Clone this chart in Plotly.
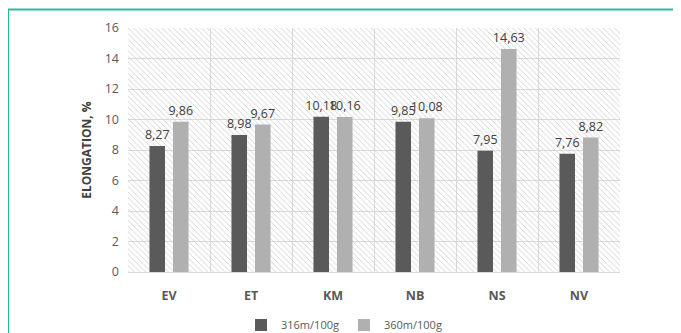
import plotly.graph_objects as go

categories = ["EV", "ET", "KM", "NB", "NS", "NV"]
series_316 = [8.27, 8.98, 10.18, 9.85, 7.95, 7.76]
series_360 = [9.86, 9.67, 10.16, 10.08, 14.63, 8.82]
series_names = ["316m/100g", "360m/100g"]
y_ticks = [0, 2, 4, 6, 8, 10, 12, 14, 16]
y_max = 16

# page has an 8px body margin; figure sized to fill the rest of the window
OFF = 8
W, H = 681 - OFF, 333 - OFF
ML, MR, MT, MB = 128 - OFF, 61, 28 - OFF, 61
pw = W - ML - MR
ph = H - MT - MB

def px_x(x):
    return (x - OFF - ML) / pw

def px_y(y):
    return (H - MB - (y - OFF)) / ph

fig = go.Figure()

# hatched plot-area background (decoration)
fig.add_trace(go.Bar(
    x=[0.5], y=[y_max], width=[1], xaxis="x", yaxis="y",
    marker=dict(color="#cfcfcf", line=dict(width=0),
                pattern=dict(shape="\\", size=4, solidity=0.22,
                             fillmode="replace")),
    showlegend=False, hoverinfo="skip",
))

font_txt = dict(family="Open Sans", size=12.5, color="#404040")
for name, vals, col in [(series_names[0], series_316, "#5a5a5a"),
                        (series_names[1], series_360, "#b0b0b0")]:
    fig.add_trace(go.Bar(
        x=categories, y=vals, name=name, xaxis="x2", yaxis="y",
        marker=dict(color=col, line=dict(width=0)),
        texttemplate="%{y:.2f}", textposition="outside",
        textfont=font_txt, constraintext="none", cliponaxis=False,
    ))

fig.update_layout(
    width=W, height=H,
    margin=dict(l=ML, r=MR, t=MT, b=MB, pad=0, autoexpand=False),
    paper_bgcolor="white", plot_bgcolor="white",
    separators=",.",
    barmode="group", bargap=0.426, bargroupgap=0.34,
    font=dict(family="Open Sans", size=12.5, color="#595959"),
    xaxis=dict(range=[0, 1], visible=False, fixedrange=True),
    xaxis2=dict(type="category", overlaying="x", anchor="y", side="bottom",
                tickson="boundaries", showgrid=True, gridcolor="#d9d9d9",
                gridwidth=1, ticks="", showline=False, zeroline=False,
                tickfont=dict(family="Open Sans", size=12.5, color="#595959",
                              weight="bold"),
                ticklabelstandoff=14),
    yaxis=dict(range=[0, y_max], tickvals=y_ticks, showgrid=True,
               gridcolor="#d9d9d9", gridwidth=1, zeroline=True,
               zerolinecolor="#d9d9d9", zerolinewidth=1, ticks="",
               tickfont=dict(family="Open Sans", size=12.5, color="#595959"),
               ticklabelstandoff=8,
               title=dict(text="ELONGATION, %", standoff=10,
                          font=dict(family="Open Sans", size=12,
                                    color="#404040", weight="bold"))),
    legend=dict(orientation="h", x=px_x(344), xanchor="center",
                y=px_y(325), yanchor="middle",
                font=dict(family="Open Sans", size=11, color="#595959"),
                itemwidth=30, bgcolor="rgba(0,0,0,0)"),
    shapes=[dict(type="rect", xref="paper", yref="paper",
                 x0=px_x(8), x1=px_x(720), y0=px_y(360), y1=px_y(9.5),
                 line=dict(color="#2bb99b", width=2),
                 fillcolor="rgba(0,0,0,0)", layer="below")],
)

fig.write_html("out.html")
